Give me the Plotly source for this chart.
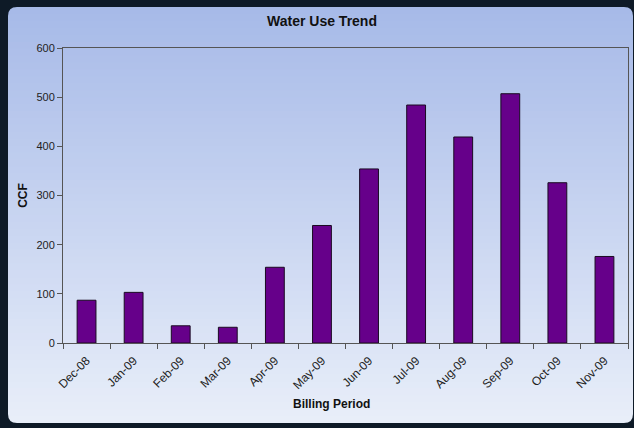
import plotly.graph_objects as go

categories = ["Dec-08", "Jan-09", "Feb-09", "Mar-09", "Apr-09", "May-09",
              "Jun-09", "Jul-09", "Aug-09", "Sep-09", "Oct-09", "Nov-09"]
ccf = [87, 103, 35, 32, 154, 239, 354, 484, 419, 507, 326, 176]
y_ticks = [0, 100, 200, 300, 400, 500, 600]

W, H = 634, 428
L, R, T, B = 63, 6, 48, 85
pw, ph = W - L - R, H - T - B


def px(x):
    return (x - L) / pw


def py(y):
    return (H - B - y) / ph


def lerp(c1, c2, t):
    return "rgb(%d,%d,%d)" % tuple(round(a + (b - a) * t) for a, b in zip(c1, c2))


top_c = (167, 186, 232)
bot_c = (232, 238, 249)
panel_x0, panel_x1, panel_y0, panel_y1 = 8, 633, 7, 423

shapes = []
n = 60
step = (panel_y1 - panel_y0) / n
for i in range(n):
    y0 = panel_y0 + step * i
    y1 = min(panel_y1, y0 + step + 3)
    shapes.append(dict(type="rect", xref="paper", yref="paper", layer="below",
                       x0=px(panel_x0), x1=px(panel_x1), y0=py(y0), y1=py(y1),
                       fillcolor=lerp(top_c, bot_c, i / (n - 1)), line=dict(width=0)))

dark = "#0e1a27"
r = 9
for (cx, cy, sx, sy) in [(panel_x0, panel_y0, 1, 1), (panel_x0, panel_y1, 1, -1),
                         (panel_x1, panel_y0, -1, 1), (panel_x1, panel_y1, -1, -1)]:
    path = "M %f,%f L %f,%f Q %f,%f %f,%f Z" % (
        px(cx), py(cy), px(cx + sx * r), py(cy), px(cx), py(cy), px(cx), py(cy + sy * r))
    shapes.append(dict(type="path", xref="paper", yref="paper", layer="below",
                       path=path, fillcolor=dark, line=dict(width=0)))

fig = go.Figure(go.Bar(
    x=categories, y=ccf,
    marker=dict(color="#66008a", line=dict(color="#1a0a22", width=1)),
))

font = "Liberation Sans, Arial, sans-serif"
fig.update_layout(
    width=W, height=H,
    margin=dict(l=L, r=R, t=T, b=B),
    paper_bgcolor=dark,
    plot_bgcolor="rgba(0,0,0,0)",
    bargap=0.6,
    showlegend=False,
    shapes=shapes,
    title=dict(text="<b>Water Use Trend</b>", xref="container", x=322 / W,
               xanchor="center", yref="container", y=1 - 21 / H, yanchor="middle",
               font=dict(family=font, size=14, color="#111")),
    annotations=[dict(text="<b>Billing Period</b>", xref="paper", yref="paper",
                      x=px(331), y=py(404), xanchor="center", yanchor="middle",
                      showarrow=False, font=dict(family=font, size=12, color="#111"))],
    xaxis=dict(
        type="category", tickangle=-45, ticks="outside", tickson="boundaries",
        ticklen=5, tickcolor="#555", showline=True, linecolor="#555", linewidth=1,
        mirror=True, showgrid=False, ticklabelstandoff=5,
        tickfont=dict(family=font, size=12, color="#222"),
    ),
    yaxis=dict(
        range=[0, 600], tickvals=y_ticks, ticks="outside", ticklen=5,
        tickcolor="#555", showline=True, linecolor="#555", linewidth=1,
        mirror=True, showgrid=False, zeroline=False,
        tickfont=dict(family=font, size=11, color="#222"),
        title=dict(text="<b>CCF</b>", standoff=6,
                   font=dict(family=font, size=12, color="#111")),
    ),
)

fig.write_html("out.html")
